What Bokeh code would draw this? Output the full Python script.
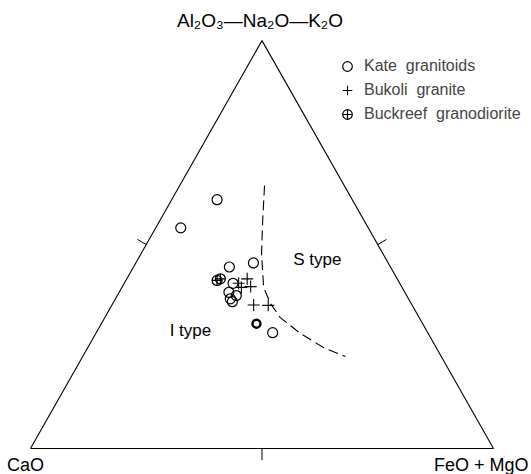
from bokeh.plotting import figure
from bokeh.models import Range1d, Legend, LegendItem
from bokeh.core.properties import value
from bokeh.embed import file_html
from bokeh.resources import INLINE

FONT = "Liberation Sans"

# Ternary components in percent: A = Al2O3-Na2O-K2O (apex), C = CaO (left), F = FeO+MgO (right)
kate_a = [61.0, 54.1, 44.5, 45.5, 40.5, 38.3, 37.5, 36.7, 36.0, 28.4]
kate_c = [29.2, 40.5, 34.8, 29.1, 36.0, 38.0, 36.8, 38.5, 38.4, 33.5]
kate_f = [9.8, 5.4, 20.7, 25.4, 23.5, 23.7, 25.7, 24.8, 25.6, 38.1]

# one Kate sample plotted with a heavier ring
kate_bold_a = [30.6]
kate_bold_c = [35.9]
kate_bold_f = [33.5]

bukoli_a = [41.6, 40.5, 39.7, 39.5, 35.2, 35.1]
bukoli_c = [32.4, 34.8, 32.6, 34.7, 34.2, 31.1]
bukoli_f = [26.0, 24.7, 27.7, 25.8, 30.6, 33.8]

buckreef_a = [41.2, 41.6]
buckreef_c = [39.1, 38.2]
buckreef_f = [19.7, 20.2]

# I-type / S-type boundary
bound_a = [64.5, 55.9, 47.8, 39.5, 35.5, 32.1, 28.2, 24.75, 22.55]
bound_c = [17.2, 21.9, 26.2, 29.9, 30.4, 30.0, 27.6, 24.35, 20.7]
bound_f = [18.3, 22.2, 26.0, 30.6, 34.1, 37.9, 44.2, 50.9, 56.75]

apex_labels = ["Al\u2082O\u2083\u2014Na\u2082O\u2014K\u2082O", "CaO", "FeO\u00a0+\u00a0MgO"]
series_labels = ["Kate\u00a0\u00a0granitoids", "Bukoli\u00a0\u00a0granite",
                 "Buckreef\u00a0\u00a0granodiorite"]
field_labels = ["S type", "I type"]
field_a = [46.3, 28.9]
field_c = [14.9, 51.0]
field_f = [38.8, 20.1]

H = 86.6  # height of the unit triangle (side 100)


def tern_xy(a, c, f):
    xs, ys = [], []
    for ai, ci, fi in zip(a, c, f):
        s = ai + ci + fi
        ai, fi = 100 * ai / s, 100 * fi / s
        xs.append(fi + ai / 2)
        ys.append(ai * H / 100)
    return xs, ys


p = figure(width=531, height=474, output_backend="svg", toolbar_location=None,
           x_range=Range1d(-6.48, 108.21), y_range=Range1d(-5.52, 95.12),
           min_border=0, outline_line_color=None)
p.axis.visible = False
p.grid.visible = False
p.background_fill_color = "white"

# triangle frame
tx, ty = tern_xy([0, 0, 100, 0], [100, 0, 0, 100], [0, 100, 0, 0])
p.line(tx, ty, line_color="black", line_width=1.1)

# mid-side ticks
mx, my = tern_xy([0, 50, 50], [50, 50, 0], [50, 0, 50])
p.segment(x0=mx, y0=my,
          x1=[mx[0], mx[1] - 1.9, mx[2] + 1.9],
          y1=[my[0] - 2.5, my[1] + 1.1, my[2] + 1.1],
          line_color="black", line_width=1)

# boundary curve
bx, by = tern_xy(bound_a, bound_c, bound_f)
p.line(bx, by, line_color="black", line_width=1.1, line_dash="10 5")

kx, ky = tern_xy(kate_a, kate_c, kate_f)
r_kate = p.scatter(kx, ky, marker="circle", size=10, fill_color=None,
                   line_color="black", line_width=1.2)
kbx, kby = tern_xy(kate_bold_a, kate_bold_c, kate_bold_f)
p.scatter(kbx, kby, marker="circle", size=8, fill_color=None,
          line_color="black", line_width=2.4)

bux, buy = tern_xy(bukoli_a, bukoli_c, bukoli_f)
r_buk = p.scatter(bux, buy, marker="cross", size=12, line_color="black", line_width=1.1)

brx, bry = tern_xy(buckreef_a, buckreef_c, buckreef_f)
r_bre = p.scatter(brx, bry, marker="circle_cross", size=10, fill_color=None,
                  line_color="black", line_width=1.2)

# vertex labels
vx, vy = tern_xy([100, 0, 0], [0, 100, 0], [0, 0, 100])
p.text(x=[vx[0]], y=[vy[0]], text=[apex_labels[0]], text_font=value(FONT),
       text_font_size="19px", text_align="center", text_baseline="middle",
       y_offset=-20, x_offset=-2)
p.text(x=[vx[1]], y=[vy[1]], text=[apex_labels[1]], text_font=value(FONT),
       text_font_size="18px", text_align="center", text_baseline="middle",
       y_offset=16, x_offset=-5)
p.text(x=[vx[2]], y=[vy[2]], text=[apex_labels[2]], text_font=value(FONT),
       text_font_size="18px", text_align="right", text_baseline="middle",
       y_offset=16, x_offset=35)

# field labels
fx, fy = tern_xy(field_a, field_c, field_f)
p.text(x=fx, y=fy, text=field_labels, text_font=value(FONT), text_font_size="17px",
       text_align="center", text_baseline="middle")

legend = Legend(items=[LegendItem(label=series_labels[0], renderers=[r_kate]),
                       LegendItem(label=series_labels[1], renderers=[r_buk]),
                       LegendItem(label=series_labels[2], renderers=[r_bre])],
                location=(335, 348), orientation="vertical",
                label_text_font=FONT, label_text_font_size="16px",
                label_height=24, glyph_height=24, glyph_width=24,
                label_standoff=5, spacing=0, padding=0, margin=0,
                background_fill_alpha=0, border_line_color=None)
p.add_layout(legend, "center")

open("out.html", "w").write(file_html(p, INLINE))
